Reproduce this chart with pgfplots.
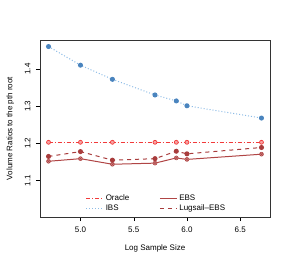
\documentclass[border=0pt]{standalone}
\usepackage{pgfplots}
\pgfplotsset{compat=1.18}
\usepackage{fontspec}
\setmainfont{Liberation Sans}
\definecolor{oracle}{HTML}{F23A3A}
\definecolor{oraclefill}{HTML}{F7A0A0}
\definecolor{ibsline}{HTML}{8DBCE6}
\definecolor{ibsmark}{HTML}{4A84BE}
\definecolor{ebs}{HTML}{B04545}
\definecolor{lug}{HTML}{A83C3C}
\begin{document}
\begin{tikzpicture}
\begin{axis}[
  scale only axis,
  width=230pt, height=177pt,
  xmin=4.62, xmax=6.78,
  ymin=1.0024, ymax=1.4776,
  xtick={5.0,5.5,6.0,6.5},
  xticklabels={5.0,5.5,6.0,6.5},
  ytick={1.1,1.2,1.3,1.4},
  yticklabels={1.1,1.2,1.3,1.4},
  yticklabel style={rotate=90, anchor=south, font=\fontsize{8}{9}\selectfont, yshift=2pt},
  xticklabel style={font=\fontsize{8}{9}\selectfont, yshift=-2pt},
  tick align=outside,
  tick pos=left,
  major tick length=4pt,
  tick style={black, line width=0.4pt},
  axis line style={line width=0.5pt, black!80},
  xlabel={Log Sample Size},
  ylabel={Volume Ratios to the pth root},
  label style={font=\fontsize{8}{9.5}\selectfont},
  xlabel style={yshift=-6pt},
  ylabel style={yshift=4pt},
  legend style={draw=none, fill=none, at={(0.185,0.005)}, anchor=south west,
    font=\fontsize{8}{9}\selectfont, legend columns=2,
    /tikz/every even column/.append style={column sep=28pt},
    row sep=-1.5pt},
  legend cell align=left,
  legend image code/.code={\draw[#1, mark=none] (0pt,0pt) -- (17pt,0pt);},
]
\addplot[oracle, line width=1pt, dash pattern=on 4pt off 2pt on 1pt off 2pt, mark=*, mark size=2pt,
  mark options={solid, draw=oracle, fill=oraclefill, line width=0.7pt}]
  coordinates {(4.7,1.203) (5.0,1.203) (5.3,1.203) (5.7,1.203) (5.9,1.203) (6.0,1.203) (6.7,1.203)};
\addlegendentry{Oracle}
\addplot[ebs, line width=1pt, solid, mark=otimes*, mark size=2pt,
  mark options={solid, draw=ebs, fill=ebs!60, line width=0.5pt}]
  coordinates {(4.7,1.152) (5.0,1.159) (5.3,1.144) (5.7,1.147) (5.9,1.161) (6.0,1.157) (6.7,1.171)};
\addlegendentry{EBS}
\addplot[ibsline, line width=1pt, dash pattern=on 1pt off 2pt, mark=*, mark size=2pt,
  mark options={solid, draw=ibsmark, fill=ibsmark}]
  coordinates {(4.7,1.460) (5.0,1.410) (5.3,1.372) (5.7,1.330) (5.9,1.314) (6.0,1.301) (6.7,1.268)};
\addlegendentry{IBS}
\addplot[lug, line width=1pt, dash pattern=on 4pt off 4pt, mark=*, mark size=2pt,
  mark options={solid, draw=lug, fill=lug}]
  coordinates {(4.7,1.165) (5.0,1.178) (5.3,1.155) (5.7,1.159) (5.9,1.179) (6.0,1.172) (6.7,1.189)};
\addlegendentry{Lugsail--EBS}
\end{axis}
\path[use as bounding box] (-40pt,-50pt) rectangle (251pt,217pt);
\end{tikzpicture}
\end{document}
